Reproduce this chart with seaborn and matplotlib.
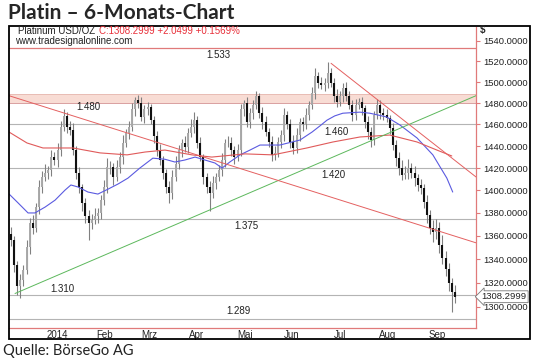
import numpy as np
import pandas as pd
import matplotlib
matplotlib.use("Agg")
import matplotlib.pyplot as plt
from matplotlib.ticker import FixedLocator, FuncFormatter, NullLocator
from matplotlib.patches import Rectangle
import seaborn as sns

sns.set_style("white")
plt.rcParams['font.family'] = ['Liberation Sans', 'DejaVu Sans']

# daily closes (USD/oz), Dec 2013 .. Sep 2014
closes = [1356, 1335, 1317, 1322, 1331, 1350, 1371, 1367, 1385, 1403, 1412, 1416,
          1418, 1430, 1427, 1436, 1458, 1468, 1458, 1455, 1436, 1416, 1403, 1389,
          1377, 1371, 1374, 1377, 1380, 1391, 1403, 1421, 1421, 1412, 1421, 1430,
          1443, 1452, 1458, 1474, 1483, 1480, 1467, 1474, 1476, 1464, 1449, 1436,
          1427, 1416, 1403, 1398, 1412, 1424, 1436, 1443, 1439, 1452, 1458, 1464,
          1443, 1430, 1412, 1403, 1398, 1407, 1412, 1418, 1427, 1443, 1443, 1436,
          1430, 1436, 1474, 1480, 1462, 1471, 1478, 1487, 1471, 1462, 1453, 1444,
          1432, 1434, 1444, 1450, 1469, 1460, 1444, 1438, 1450, 1462, 1460, 1469,
          1478, 1490, 1506, 1499, 1497, 1499, 1509, 1499, 1487, 1481, 1487, 1494,
          1487, 1478, 1469, 1478, 1481, 1475, 1462, 1453, 1446, 1469, 1478, 1471,
          1469, 1466, 1457, 1441, 1429, 1420, 1414, 1416, 1420, 1416, 1411, 1405,
          1402, 1390, 1378, 1367, 1363, 1367, 1352, 1341, 1332, 1320, 1312, 1308.3]
first_open = 1362

up_wick = [6, 4, 3, 5, 4, 6, 5, 7, 4, 6, 5, 8,
           4, 6, 5, 7, 5, 6, 4, 5, 6, 4, 5, 3,
           4, 6, 5, 7, 4, 5, 6, 8, 5, 4, 6, 5,
           7, 4, 5, 6, 3, 5, 6, 4, 5, 3, 4, 5,
           6, 4, 3, 5, 6, 7, 5, 4, 6, 5, 7, 8,
           4, 5, 3, 4, 5, 6, 4, 5, 7, 4, 6, 5,
           4, 6, 5, 3, 6, 4, 5, 4, 3, 5, 6, 4,
           5, 6, 4, 5, 6, 4, 5, 6, 7, 4, 5, 6,
           4, 5, 7, 4, 6, 5, 10, 4, 5, 6, 4, 5,
           6, 4, 5, 6, 4, 5, 3, 6, 5, 4, 6, 5,
           4, 5, 3, 4, 5, 6, 7, 6, 8, 5, 6, 4,
           5, 4, 6, 5, 7, 8, 5, 9, 6, 5, 4, 6]
dn_wick = [5, 6, 7, 10, 5, 4, 6, 5, 4, 6, 5, 4,
           6, 5, 4, 6, 5, 4, 6, 5, 4, 6, 5, 7,
           6, 15, 5, 4, 6, 5, 4, 5, 6, 7, 4, 5,
           6, 4, 5, 4, 6, 5, 4, 6, 5, 4, 6, 5,
           4, 6, 5, 9, 6, 4, 5, 6, 4, 5, 4, 6,
           5, 4, 6, 5, 16, 5, 6, 4, 5, 6, 4, 5,
           6, 4, 5, 6, 4, 5, 6, 4, 5, 6, 4, 5,
           6, 5, 4, 6, 5, 4, 6, 5, 4, 5, 6, 4,
           5, 4, 6, 5, 4, 6, 5, 4, 6, 5, 4, 6,
           5, 4, 6, 5, 4, 6, 5, 6, 7, 5, 4, 6,
           5, 4, 6, 5, 7, 6, 5, 4, 6, 5, 7, 6,
           5, 6, 7, 5, 8, 6, 7, 5, 6, 7, 16, 5]

# moving averages (bar index, price)
blue_ma_x = [-0.6, 2.3, 5.5, 7.7, 11, 14.2, 17.4, 19.3, 21.6, 24.8, 28, 31.2, 34.5, 37.7,
             41.5, 45.7, 49.6, 52.8, 56, 59.3, 62.5, 65.7, 68, 70.5, 73.8, 77, 80.2,
             86.6, 93.1, 97, 99.5, 101.8, 104.3, 106.9, 112.4, 115.6, 121, 125.3,
             130.8, 135.9, 140.4, 142.3]
blue_ma_y = [1396.7, 1388.8, 1380, 1380, 1385.2, 1391.3, 1400.2, 1404.8, 1403, 1398.5,
             1396.7, 1401, 1405.7, 1411, 1420, 1429, 1428, 1425.5, 1427.3, 1430, 1427.3,
             1424.6, 1420, 1425.5, 1432, 1436.4, 1441, 1441, 1445.6, 1453, 1458.6, 1464,
             1468, 1470.5, 1471.5, 1470.5, 1467, 1459.5, 1447.5, 1432, 1411, 1398.5]
red_ma_x = [-0.64, 5.15, 10.3, 20, 28.7, 37.4, 43.2, 49.6, 58.3, 64.7, 75.4, 84.4, 95.3,
            103.7, 112.4, 122, 130.8, 137.2, 142]
red_ma_y = [1453, 1442.9, 1438.3, 1438.3, 1433.8, 1432, 1434.6, 1436.4, 1432, 1430,
            1432.9, 1432, 1438.3, 1443.8, 1448.4, 1450.2, 1443.8, 1436.4, 1431]

# trend lines
green_x, green_y = [1.3, 149.8], [1311, 1487]
red_long_x, red_long_y = [-0.64, 149.8], [1487, 1354]
red_short_x, red_short_y = [103.1, 149.8], [1518, 1412]

gray_levels = [1460, 1420, 1375, 1310, 1290]
level_text = ['1.533', '1.480', '1.460', '1.420', '1.375', '1.310', '1.289']
level_tx = [66.7, 24.8, 105, 103.7, 75.7, 16.7, 73.4]
level_ty = [1526, 1476.3, 1453, 1413.7, 1368.6, 1314.6, 1296.4]

months = ['2014', 'Feb', 'Mrz', 'Apr', 'Mai', 'Jun', 'Jul', 'Aug', 'Sep']
month_pos = [14.8, 30, 44.4, 59.9, 75.4, 90.5, 106, 121.4, 137.2]
month_bounds = [7.7, 24.2, 37.7, 52.8, 68, 83.7, 98.2, 114, 129.1]
price_ticks = [1300, 1320, 1340, 1360, 1380, 1400, 1420, 1440, 1460, 1480, 1500, 1520, 1540]
last_price = 1308.2999

df = pd.DataFrame({'close': closes, 'up': up_wick, 'dn': dn_wick})
df['idx'] = np.arange(len(df))
df['open'] = [first_open] + closes[:-1]
df['high'] = df[['open', 'close']].max(axis=1) + df['up']
df['low'] = df[['open', 'close']].min(axis=1) - df['dn']
rising = df['close'] >= df['open']

fig = plt.figure(figsize=(5.4, 3.63), dpi=100)
ax = fig.add_axes([9 / 540, 1 - 328 / 363, 467 / 540, 301 / 363])
ax.set_yscale('log')

ax.axhspan(1480, 1488.5, fc='#f8dcd4', ec='none', zorder=0)
ax.axhline(1480, color='#d9a0a0', lw=0.7, zorder=1)
ax.axhline(1488.5, color='#e6b8b0', lw=0.6, zorder=1)
ax.axhline(1533, color='#e07a7a', lw=0.9, zorder=1)
for lv in gray_levels:
    ax.axhline(lv, color='#b4b4b4', lw=0.8, zorder=1)

# bars
ax.vlines(df['idx'], df['low'], df['high'], colors='#808080', lw=0.8, zorder=3)
up = df[rising]
down = df[~rising]
ax.vlines(up['idx'], up['open'], up['close'], colors='#a8a8a8', lw=1.4, zorder=3)
ax.vlines(down['idx'], down['close'], down['open'], colors='#111111', lw=1.5, zorder=4)

sns.lineplot(x=blue_ma_x, y=blue_ma_y, ax=ax, color='#5a5ae0', lw=0.8, sort=False, estimator=None, zorder=5)
sns.lineplot(x=red_ma_x, y=red_ma_y, ax=ax, color='#e05a5a', lw=0.8, sort=False, estimator=None, zorder=5)
sns.lineplot(x=green_x, y=green_y, ax=ax, color='#5cb85c', lw=0.7, zorder=5)
sns.lineplot(x=red_long_x, y=red_long_y, ax=ax, color='#e46060', lw=0.7, zorder=5)
sns.lineplot(x=red_short_x, y=red_short_y, ax=ax, color='#e46060', lw=0.7, zorder=5)

for t, x, y in zip(level_text, level_tx, level_ty):
    ax.text(x, y, t, fontsize=7, ha='center', va='center', color='#222222', zorder=6)

ax.set_xlim(-0.64, 149.8)
ax.set_ylim(1282.5, 1553.5)

ax.yaxis.tick_right()
ax.yaxis.set_major_locator(FixedLocator(price_ticks))
ax.yaxis.set_minor_locator(NullLocator())
ax.yaxis.set_major_formatter(FuncFormatter(lambda v, p: f"{v:.4f}"))
ax.tick_params(axis='y', which='major', direction='out', length=3, color='#e07a7a',
               labelsize=6.8, pad=2, labelcolor='#222222')

ax.xaxis.set_major_locator(FixedLocator(month_pos))
ax.set_xticklabels(months)
ax.xaxis.set_minor_locator(FixedLocator(month_bounds))
ax.tick_params(axis='x', which='major', length=0, labelsize=7, pad=1.5, labelcolor='#222222')
ax.tick_params(axis='x', which='minor', direction='out', length=3, color='#999999')

ax.spines['left'].set_visible(False)
ax.spines['top'].set_visible(False)
for s in ['right', 'bottom']:
    ax.spines[s].set_color('#e07a7a')
    ax.spines[s].set_linewidth(0.9)

ax.text(1.012, last_price, f"{last_price:.4f}", transform=ax.get_yaxis_transform(),
        fontsize=6.8, ha='left', va='center', color='#222222',
        bbox=dict(boxstyle='larrow,pad=0.15', fc='white', ec='#777777', lw=0.6))

# frame and header texts
fig.add_artist(Rectangle((9 / 540, 1 - 339 / 363), 521 / 540, 313 / 363,
                         transform=fig.transFigure, fill=False, ec='black', lw=1.3))
fig.text(8 / 540, 1 - 13 / 363, 'Platin – 6-Monats-Chart', fontsize=15, weight='bold',
         family=['Lato', 'DejaVu Sans'], va='center', ha='left')
fig.text(18 / 540, 1 - 31.5 / 363, 'Platinum USD/OZ', fontsize=7, va='center', color='#222222')
fig.text(99 / 540, 1 - 31.5 / 363, 'C:1308.2999 +2.0499 +0.1569%', fontsize=7, va='center',
         color='#e8303a')
fig.text(15 / 540, 1 - 41.5 / 363, 'www.tradesignalonline.com', fontsize=7, va='center',
         color='#222222')
fig.text(480 / 540, 1 - 30 / 363, '$', fontsize=7, weight='bold', va='center')
fig.text(3 / 540, 1 - 351 / 363, 'Quelle: BörseGo AG', fontsize=10.5,
         family=['Lato', 'DejaVu Sans'], va='center', ha='left', color='#222222')

fig.savefig('out.png', dpi=100)
